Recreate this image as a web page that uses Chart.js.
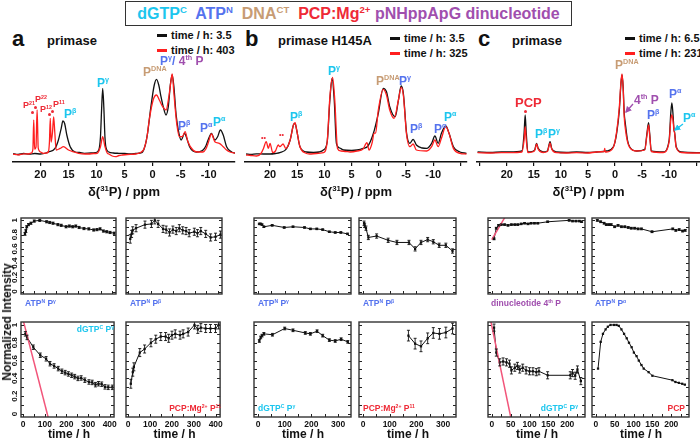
<!DOCTYPE html>
<html>
<head>
<meta charset="utf-8">
<script src="https://cdn.jsdelivr.net/npm/chart.js@4.4.1/dist/chart.umd.min.js"></script>
<style>
  body { margin: 0; background: #fff; }
  #fig { position: relative; width: 700px; height: 439px; overflow: hidden; font-family: 'Liberation Sans', Arial, sans-serif; }
  #fig canvas { position: absolute; }
  .t { position: absolute; font-weight: bold; white-space: nowrap; line-height: 1; }
  .t sup { font-size: .6em; vertical-align: .65em; line-height: 0; }
</style>
</head>
<body>
<div id="fig"></div>
<script>
// ── Spectra (ppm, intensity) ──
const aPpmK = [25,24,23,22,21,20,19,18.6,17.4,16.8,16.3,16.0,15.7,15.3,14.7,13.8,13,12.2,11,10.2,9.6,9.3,9.1,8.9,8.7,8.5,8.3,7.8,7,6,5,4,3,2.2,1.8,1.3,0.9,0.3,-0.3,-0.7,-1.1,-1.5,-1.9,-2.4,-2.8,-3.2,-3.5,-3.8,-4.2,-4.7,-5.1,-5.7,-6.1,-6.6,-7.2,-7.8,-8.5,-9.0,-9.5,-9.9,-10.5,-11.1,-11.6,-12.1,-12.6,-13.2,-14.1,-14.8];
const aIntK = [.085,.075,.085,.078,.085,.08,.09,.10,.136,.22,.337,.41,.387,.27,.153,.10,.095,.087,.09,.093,.12,.25,.52,.737,.55,.25,.14,.10,.09,.087,.085,.08,.085,.09,.10,.17,.287,.553,.77,.827,.77,.653,.553,.47,.553,.787,.87,.753,.47,.287,.22,.287,.237,.153,.11,.10,.105,.12,.16,.22,.287,.22,.253,.32,.27,.153,.10,.087];
const aPpmR = [25,24,23,22.2,21.6,21.35,21.2,21.05,20.8,20.6,20.4,20,19.5,19,18.6,18.4,18.25,18.1,17.85,17.65,17.45,17.2,16.5,15.9,15,14,13.2,12,11.4,10.5,9.9,9.3,8.9,8.5,8.1,7.8,7.2,6.6,6,5.4,4.5,3,2,1.5,1.0,0.6,-0.1,-0.7,-1.2,-1.8,-2.4,-2.9,-3.3,-3.5,-3.8,-4.3,-4.8,-5.3,-5.8,-6.3,-7.2,-8,-9,-9.5,-9.9,-10.5,-11.1,-11.9,-12.6,-13.2,-13.8,-14.8];
const aIntR = [.08,.072,.082,.08,.09,.13,.42,.13,.15,.52,.14,.10,.087,.09,.10,.20,.437,.20,.30,.45,.30,.12,.136,.153,.12,.10,.087,.08,.08,.085,.087,.153,.253,.153,.09,.08,.06,.053,.065,.07,.075,.08,.10,.136,.25,.42,.62,.67,.62,.553,.52,.653,.82,.88,.687,.387,.253,.253,.303,.203,.12,.10,.10,.13,.187,.28,.203,.187,.153,.12,.10,.087];

const bPpmK = [24.4,23.5,22.5,21.2,20,19,18.2,17,16.3,15.7,15.4,15.1,14.5,13.3,12,11,10.2,9.5,9.0,8.6,8.2,7.8,7.2,6.5,5,4,2.9,2,1.0,0.1,-0.8,-1.4,-2.0,-3.0,-3.6,-4.1,-4.5,-5.1,-5.7,-6.3,-6.9,-8,-8.8,-9.7,-10.3,-10.9,-11.5,-12.3,-12.9,-13.7,-14.9,-16.1];
const bIntK = [.08,.075,.082,.08,.08,.085,.093,.13,.22,.37,.387,.32,.153,.10,.095,.10,.12,.20,.62,.837,.62,.187,.14,.12,.115,.12,.136,.16,.287,.487,.737,.703,.553,.453,.62,.76,.687,.287,.187,.227,.17,.14,.136,.187,.26,.187,.287,.36,.287,.153,.10,.087];
const bPpmR = [24.4,23.5,22.5,21.6,21.2,20.7,20.3,20.0,19.5,19,18.5,18.2,17.6,17.1,16.3,15.7,15.4,15.1,14.5,13.5,12.7,11.5,10.2,9.5,9.0,8.5,8.1,7.6,7,6,5.3,4,2.9,2.2,1.8,1.2,0.9,0.6,0.1,-0.8,-1.4,-2.0,-2.8,-3.6,-4.1,-4.5,-5.1,-5.7,-6.3,-6.9,-8.8,-9.7,-10.3,-10.9,-11.5,-12.3,-12.9,-13.7,-14.9,-16.1];
const bIntR = [.07,.065,.06,.09,.136,.203,.136,.187,.093,.11,.17,.153,.18,.136,.22,.37,.393,.32,.153,.09,.08,.085,.093,.20,.653,.847,.62,.136,.11,.105,.10,.11,.13,.193,.12,.20,.287,.29,.52,.727,.67,.52,.437,.62,.747,.67,.27,.153,.18,.12,.11,.153,.22,.153,.237,.353,.287,.136,.087,.08];

const cPpmK = [25.4,23,21,19.4,17.2,16.8,16.6,16.4,16.1,15.3,14.8,14.5,14.2,13.3,12.5,12.0,11.7,10.8,9,7.1,5,3.4,1.6,0.3,-0.3,-0.8,-1.1,-1.3,-1.5,-1.7,-1.9,-2.3,-2.7,-4.0,-5.5,-5.9,-6.2,-6.4,-6.7,-8.9,-10.0,-10.3,-10.5,-10.7,-10.9,-11.0,-11.3,-12.3,-15.7];
const cIntK = [.10,.095,.10,.10,.11,.287,.47,.287,.10,.105,.126,.187,.136,.10,.11,.203,.136,.10,.095,.10,.095,.10,.11,.153,.287,.52,.787,.87,.753,.487,.387,.22,.153,.11,.126,.287,.393,.287,.11,.10,.22,.487,.59,.487,.32,.30,.153,.10,.093];
const cPpmR = [25.4,23,21,19.4,17.2,16.8,16.6,16.4,16.1,15.3,14.8,14.5,14.2,13.3,12.5,12.0,11.7,10.8,9,7.1,5,3.4,2.0,1.9,1.8,1.6,0.3,-0.3,-0.8,-1.1,-1.3,-1.5,-1.7,-1.9,-2.3,-2.7,-4.0,-5.5,-5.9,-6.2,-6.4,-6.7,-8.9,-10.0,-10.3,-10.5,-10.7,-10.9,-11.0,-11.3,-12.3,-15.7];
const cIntR = [.093,.09,.093,.093,.10,.22,.353,.22,.095,.10,.12,.18,.13,.095,.105,.19,.13,.093,.09,.093,.09,.10,.105,.136,.10,.10,.147,.303,.553,.803,.88,.737,.453,.337,.203,.147,.11,.12,.27,.37,.27,.105,.095,.203,.42,.47,.42,.313,.29,.147,.095,.09];

// ── Kinetics panels: time / h, normalized intensity, error ──
const tA1 = [8,12,16,24,35,50,75,106,120,135,157,172,194,209,224,238,253,275,297,319,334,348,363,378,393,412];
const vA1 = [.81,.85,.91,.94,.96,.99,1.0,.98,.97,.96,.94,.93,.91,.92,.91,.92,.90,.885,.88,.865,.87,.88,.85,.84,.83,.82];
const eA1 = [.02,.02,.015,.015,.015,.015,.015,.015,.015,.015,.015,.015,.015,.015,.015,.015,.015,.015,.015,.015,.015,.015,.015,.015,.015,.015];
const tA2 = [9,15,20,35,75,104,119,134,156,170,185,200,215,229,244,259,273,296,310,325,347,369,391,413];
const vA2 = [.74,.81,.86,.89,.94,.95,1.0,.95,.88,.87,.83,.87,.85,.89,.86,.85,.82,.84,.82,.85,.81,.76,.77,.80];
const eA2 = [.06,.05,.05,.05,.05,.05,.05,.05,.05,.05,.05,.05,.05,.05,.05,.05,.05,.05,.05,.05,.05,.05,.05,.05];
const tA3 = [10,18,47,79,106,124,143,162,179,194,209,224,238,253,268,285,304,319,334,348,363,378,393,412];
const vA3 = [.90,.86,.75,.66,.62,.565,.54,.51,.48,.465,.45,.435,.42,.40,.405,.38,.36,.355,.33,.34,.335,.305,.30,.30];
const eA3 = [.025,.025,.025,.025,.025,.025,.025,.025,.025,.025,.025,.025,.025,.025,.025,.025,.025,.025,.025,.025,.025,.025,.025,.025];
const fitA3T = [0, 117];
const fitA3V = [1.054, -0.05];
const tA4 = [12,21,26,53,75,104,126,149,171,185,200,215,237,251,274,303,318,332,354,376,399,413];
const vA4 = [.34,.47,.53,.69,.73,.80,.84,.87,.87,.85,.885,.90,.885,.90,.92,1.0,.95,.97,.96,.96,.96,1.0];
const eA4 = [.05,.045,.045,.045,.045,.045,.045,.045,.045,.045,.045,.045,.045,.045,.045,.045,.045,.045,.045,.045,.045,.045];

const tB1 = [5,10,15,22,53,98,131,174,196,220,242,267,289,310,335];
const vB1 = [.95,.95,.94,.91,.93,.90,.91,.90,.88,.88,.87,.84,.83,.83,.81];
const eB1 = [.01,.01,.01,.01,.01,.01,.01,.01,.01,.01,.01,.01,.01,.01,.01];
const tB2 = [4,6,11,20,51,94,127,172,195,217,242,263,285,310,335];
const vB2 = [.96,.93,.89,.76,.78,.72,.69,.69,.60,.69,.73,.70,.65,.65,.57];
const eB2 = [.03,.03,.03,.03,.03,.03,.03,.03,.03,.03,.03,.03,.03,.03,.03];
const tB3 = [5,10,15,22,54,100,131,177,196,221,242,267,289,311,336];
const vB3 = [.82,.86,.88,.90,.89,.96,.94,.91,.90,.93,.88,.83,.82,.84,.81];
const eB3 = [.015,.015,.015,.015,.015,.015,.015,.015,.015,.015,.015,.015,.015,.015,.015];
const tB4 = [170,195,217,242,263,286,310,335];
const vB4 = [.88,.79,.76,.85,.91,.90,.915,.96];
const eB4 = [.06,.06,.06,.06,.06,.06,.06,.06];

const tC1 = [6,12,18,25,34,43,52,61,69,78,87,96,104,113,122,148,205,214,223,232,238];
const vC1 = [.74,.89,.93,.94,.94,.93,.94,.94,.94,.95,.96,.95,.96,.96,.96,.98,1.0,.99,.99,.99,.98];
const eC1 = [.012,.012,.01,.01,.01,.01,.01,.01,.01,.01,.01,.01,.01,.01,.01,.01,.01,.01,.01,.01,.01];
const fitC1T = [0, 40];
const fitC1V = [0.73, 1.09];
const tC2 = [4,13,22,28,35,41,50,59,68,77,86,94,103,112,121,149,204,212,221,230,237];
const vC2 = [1.0,.98,.96,.94,.94,.94,.91,.93,.91,.91,.90,.89,.89,.88,.88,.84,.88,.86,.87,.85,.86];
const eC2 = [.012,.012,.012,.012,.012,.012,.012,.012,.012,.012,.012,.012,.012,.012,.012,.012,.012,.012,.012,.012,.012];
const tC3 = [6,12,21,30,39,47,52,61,68,74,82,91,100,109,118,125,148,208,214,221,227,236];
const vC3 = [.97,.69,.58,.59,.58,.565,.49,.52,.54,.50,.52,.49,.48,.48,.47,.48,.435,.435,.46,.43,.50,.37];
const eC3 = [.04,.04,.04,.04,.04,.04,.04,.04,.04,.04,.04,.04,.04,.04,.04,.04,.04,.04,.04,.04,.04,.04];
const fitC3T = [-3, 52];
const fitC3V = [1.05, -0.07];
const tC4 = [6,13,19,26,32,39,48,55,61,68,75,82,88,95,101,108,114,121,127,140,150,203,211,220,229,236];
const vC4 = [.51,.81,.90,.95,.98,1.0,1.0,1.0,.99,.95,.90,.85,.80,.75,.69,.65,.60,.55,.51,.47,.43,.38,.36,.35,.34,.33];

const FONT = "'Liberation Sans', Arial, sans-serif";
const CYAN = '#1cc6ee', BLUE = '#5573ee', TAN = '#c79c74', RED = '#ee2a36', PURPLE = '#a04fae';
const fig = document.getElementById('fig');

function txt(x, y, html, color, size, extra) {
    const d = document.createElement('div');
    d.className = 't';
    d.innerHTML = html;
    d.style.left = x + 'px';
    d.style.top = y + 'px';
    d.style.color = color || '#111';
    d.style.fontSize = (size || 12) + 'px';
    if (extra) Object.assign(d.style, extra);
    fig.appendChild(d);
    return d;
}
// right-aligned variant: x is the right edge
function txtR(x, y, html, color, size) {
    return txt(x, y, html, color, size, { transform: 'translateX(-100%)' });
}

function pairs(xs, ys) { return xs.map((x, i) => ({ x, y: ys[i] })); }

// frame, inward ticks, error bars and rotated y labels for the kinetics panels
const framePlugin = {
    id: 'frame',
    afterDatasetsDraw(chart, args, opts) {
        const { ctx, chartArea: a, scales: { x, y } } = chart;
        ctx.save();
        ctx.beginPath();
        ctx.rect(a.left, a.top, a.width, a.height);
        ctx.clip();
        ctx.strokeStyle = '#111';
        ctx.lineWidth = 0.9;
        chart.data.datasets.forEach(ds => {
            if (!ds.errors) return;
            ds.data.forEach((p, j) => {
                const e = ds.errors[j];
                if (!e) return;
                const px = x.getPixelForValue(p.x);
                const y0 = y.getPixelForValue(p.y - e), y1 = y.getPixelForValue(p.y + e);
                ctx.beginPath();
                ctx.moveTo(px, y0); ctx.lineTo(px, y1);
                ctx.moveTo(px - 1.5, y0); ctx.lineTo(px + 1.5, y0);
                ctx.moveTo(px - 1.5, y1); ctx.lineTo(px + 1.5, y1);
                ctx.stroke();
            });
        });
        ctx.restore();

        ctx.save();
        ctx.strokeStyle = '#222';
        ctx.lineWidth = 1;
        ctx.beginPath();
        for (let v = 0; v <= 1.0001; v += 0.1) {
            const py = Math.round(y.getPixelForValue(v)) + 0.5;
            ctx.moveTo(a.left, py); ctx.lineTo(a.left + 3, py);
            ctx.moveTo(a.right, py); ctx.lineTo(a.right - 3, py);
        }
        for (let v = Math.ceil(x.min / opts.step) * opts.step; v <= x.max; v += opts.step) {
            const px = Math.round(x.getPixelForValue(v)) + 0.5;
            ctx.moveTo(px, a.bottom); ctx.lineTo(px, a.bottom - 3);
        }
        ctx.stroke();
        ctx.lineWidth = 1.4;
        ctx.strokeStyle = '#333';
        ctx.strokeRect(a.left, a.top, a.width, a.height);
        if (opts.yLabels) {
            ctx.fillStyle = '#111';
            ctx.font = 'bold 8px ' + FONT;
            ctx.textAlign = 'center';
            ctx.textBaseline = 'middle';
            ['0', '0.2', '0.4', '0.6', '0.8', '1'].forEach((s, i) => {
                const py = y.getPixelForValue(i * 0.2);
                ctx.save();
                ctx.translate(a.left - 6, py);
                ctx.rotate(-Math.PI / 2);
                ctx.fillText(s, 0, 0);
                ctx.restore();
            });
        }
        ctx.restore();
    }
};

function kinetics(o) {
    const padL = 16, padR = 3, padT = 3, axisH = 19;
    const cv = document.createElement('canvas');
    cv.width = o.W + padL + padR;
    cv.height = padT + o.H + (o.bottom ? axisH : 3);
    cv.style.left = (o.L - padL) + 'px';
    cv.style.top = (o.T - padT) + 'px';
    fig.appendChild(cv);

    const datasets = [{
        data: pairs(o.t, o.v), errors: o.e,
        borderColor: '#111', borderWidth: 1,
        pointStyle: 'rect', pointRadius: 1.6, pointBackgroundColor: '#111', pointBorderWidth: 0,
        order: 1
    }];
    if (o.fitT) datasets.push({
        data: pairs(o.fitT, o.fitV), borderColor: '#f2557a', borderWidth: 1.5, pointRadius: 0, order: 0
    });

    new Chart(cv, {
        type: 'line',
        data: { datasets },
        options: {
            responsive: false, animation: false, devicePixelRatio: 1,
            layout: { padding: { left: padL, right: padR, top: padT, bottom: o.bottom ? 0 : 3 } },
            plugins: { legend: { display: false }, tooltip: { enabled: false }, frame: { step: o.step, yLabels: o.yLabels } },
            scales: {
                x: {
                    type: 'linear', min: o.xmin, max: o.xmax, display: !!o.bottom,
                    grid: { display: false, drawTicks: false }, border: { display: false },
                    ticks: {
                        stepSize: o.step, includeBounds: false, autoSkip: false, maxRotation: 0, maxTicksLimit: 30, padding: 3,
                        color: '#111', font: { size: 8.5, weight: 'bold', family: FONT },
                        callback: v => (v % o.labStep === 0 ? String(v) : '')
                    },
                    afterFit: s => { s.height = axisH; }
                },
                y: { min: -0.033, max: 1.033, display: false }
            }
        },
        plugins: [framePlugin]
    });
    if (o.bottom) txt(o.L + o.W / 2, 428, 'time / h', '#111', 12, { transform: 'translateX(-50%)' });
}

function spectrum(o) {
    const pad = 2, axisH = 22, top = 62, h = 100;
    const cv = document.createElement('canvas');
    cv.width = o.W + 2 * pad;
    cv.height = pad + h + axisH;
    cv.style.left = (o.L - pad) + 'px';
    cv.style.top = (top - pad) + 'px';
    fig.appendChild(cv);
    new Chart(cv, {
        type: 'line',
        data: {
            datasets: [
                { data: pairs(o.ppmK, o.intK), borderColor: '#111', borderWidth: 1.3, pointRadius: 0, cubicInterpolationMode: 'monotone', order: 1 },
                { data: pairs(o.ppmR, o.intR), borderColor: '#ff1f1f', borderWidth: 1.3, pointRadius: 0, cubicInterpolationMode: 'monotone', order: 0 }
            ]
        },
        options: {
            responsive: false, animation: false, devicePixelRatio: 1,
            layout: { padding: { left: pad, right: pad, top: pad, bottom: 0 } },
            plugins: { legend: { display: false }, tooltip: { enabled: false } },
            scales: {
                x: {
                    type: 'linear', reverse: true, min: o.min, max: o.max,
                    grid: { drawOnChartArea: false, drawTicks: true, tickLength: 4, color: '#111', lineWidth: 1.2 },
                    border: { display: true, color: '#111', width: 1.6 },
                    ticks: {
                        stepSize: 5, includeBounds: false, autoSkip: false, maxRotation: 0, maxTicksLimit: 30, padding: 2,
                        color: '#111', font: { size: 11, weight: 'bold', family: FONT },
                        callback: v => (v >= -10 && v <= 20 ? String(v) : '')
                    },
                    afterFit: s => { s.height = axisH; }
                },
                y: { min: 0, max: 1, display: false }
            }
        }
    });
    txt(o.L + o.W / 2, 185, 'δ(<sup>31</sup>P) / ppm', '#111', 13, { transform: 'translateX(-50%)' });
}

// ── Title box ──
txt(125, 1,
    `<span style="color:${CYAN}">dGTP<sup>C</sup></span>&nbsp; <span style="color:${BLUE}">ATP<sup>N</sup></span>&nbsp; ` +
    `<span style="color:${TAN}">DNA<sup>CT</sup></span>&nbsp; <span style="color:${RED}">PCP:Mg<sup>2+</sup></span> ` +
    `<span style="color:${PURPLE}">pNHppApG dinucleotide</span>`, '#111', 16,
    { width: '445px', height: '23px', border: '1.5px solid #333', textAlign: 'center', lineHeight: '24px', boxSizing: 'content-box' });

// ── Spectra ──
spectrum({ L: 13, W: 222, min: -14.7, max: 24.9, ppmK: aPpmK, intK: aIntK, ppmR: aPpmR, intR: aIntR });
spectrum({ L: 245, W: 222, min: -16.2, max: 24.6, ppmK: bPpmK, intK: bIntK, ppmR: bPpmR, intR: bIntR });
spectrum({ L: 477, W: 223, min: -15.7, max: 25.5, ppmK: cPpmK, intK: cIntK, ppmR: cPpmR, intR: cIntR });

// panel heads + legends
[[12, 'a', 'primase', 47, '3.5', '403', 157, 35],
 [245, 'b', 'primase H145A', 278, '3.5', '325', 390, 38],
 [478, 'c', 'primase', 512, '6.5', '231', 625, 38]].forEach(([x, l, name, nx, t1, t2, lx, ly]) => {
    txt(x, 28, l, '#111', 22);
    txt(nx, 34, name, '#111', 13);
    [[t1, '#111', ly], [t2, '#ff1f1f', ly + 15]].forEach(([t, c, y]) => {
        const d = document.createElement('div');
        Object.assign(d.style, { position: 'absolute', left: lx + 'px', top: (y - 1) + 'px', width: '10px', height: '2.5px', background: c });
        fig.appendChild(d);
        txt(lx + 14, y - 5.5, 'time / h: ' + t, '#111', 11);
    });
});

// peak labels, panel a
txt(23, 101, 'P<sup>21</sup>', RED, 9);
txt(35, 95, 'P<sup>22</sup>', RED, 9);
txt(40, 105, 'P<sup>12</sup>', RED, 9);
txt(53, 100, 'P<sup>11</sup>', RED, 9);
txt(64, 108, 'P<sup>β</sup>', CYAN, 12);
txt(97, 77, 'P<sup>γ</sup>', CYAN, 12);
txt(143, 66, 'P<sup>DNA</sup>', TAN, 12);
txt(160, 55, `<span style="color:${BLUE}">P<sup>γ</sup>/</span> <span style="color:${PURPLE}">4<sup>th</sup> P</span>`, BLUE, 12);
txt(178, 120, 'P<sup>β</sup>', BLUE, 12);
txt(200, 122, 'P<sup>α</sup>', BLUE, 12);
txt(213, 116, 'P<sup>α</sup>', CYAN, 12);
// panel b
txt(261, 134, '••', RED, 7);
txt(279, 131, '••', RED, 7);
txt(290, 111, 'P<sup>β</sup>', CYAN, 12);
txt(328, 65, 'P<sup>γ</sup>', CYAN, 12);
txt(376, 75, 'P<sup>DNA</sup>', TAN, 12);
txt(399, 75, 'P<sup>γ</sup>', BLUE, 12);
txt(410, 123, 'P<sup>β</sup>', BLUE, 12);
txt(434, 123, 'P<sup>α</sup>', BLUE, 12);
txt(444, 111, 'P<sup>α</sup>', CYAN, 12);
// panel c
txt(515, 96, 'PCP', RED, 13);
txt(535, 128, 'P<sup>β</sup>', CYAN, 12);
txt(548, 128, 'P<sup>γ</sup>', CYAN, 12);
txt(615, 59, 'P<sup>DNA</sup>', TAN, 12);
txt(634, 94, '4<sup>th</sup> P', PURPLE, 12);
txt(647, 109, 'P<sup>β</sup>', BLUE, 12);
txt(669, 88, 'P<sup>α</sup>', BLUE, 12);
txt(683, 112, 'P<sup>α</sup>', CYAN, 12);
// star dots above labelled peaks
[[32, 112], [35.5, 107], [49, 114], [52.5, 111], [525, 111]].forEach(([x, y]) => {
    const d = document.createElement('div');
    Object.assign(d.style, { position: 'absolute', left: (x - 1.5) + 'px', top: (y - 1.5) + 'px', width: '3px', height: '3px', borderRadius: '50%', background: RED });
    fig.appendChild(d);
});
// arrows in c
fig.insertAdjacentHTML('beforeend',
    `<svg width="700" height="439" style="position:absolute;left:0;top:0;pointer-events:none">
      <defs>
        <marker id="ap" markerWidth="5" markerHeight="5" refX="4" refY="2.5" orient="auto"><path d="M0,0 L5,2.5 L0,5 z" fill="${PURPLE}"/></marker>
        <marker id="ac" markerWidth="5" markerHeight="5" refX="4" refY="2.5" orient="auto"><path d="M0,0 L5,2.5 L0,5 z" fill="${CYAN}"/></marker>
      </defs>
      <line x1="633" y1="104" x2="626" y2="112" stroke="${PURPLE}" stroke-width="1.3" marker-end="url(#ap)"/>
      <line x1="683" y1="124" x2="675" y2="130" stroke="${CYAN}" stroke-width="1.3" marker-end="url(#ac)"/>
    </svg>`);

// ── Kinetics grid ──
const R1 = 217, R2 = 321, PH = 96;
kinetics({ L: 21, T: R1, W: 96, H: PH, t: tA1, v: vA1, e: eA1, xmin: -10, xmax: 420, step: 50, labStep: 100, yLabels: true });
kinetics({ L: 126, T: R1, W: 97, H: PH, t: tA2, v: vA2, e: eA2, xmin: -10, xmax: 420, step: 50, labStep: 100 });
kinetics({ L: 21, T: R2, W: 96, H: PH, t: tA3, v: vA3, e: eA3, fitT: fitA3T, fitV: fitA3V, xmin: -10, xmax: 420, step: 50, labStep: 100, yLabels: true, bottom: true });
kinetics({ L: 126, T: R2, W: 97, H: PH, t: tA4, v: vA4, e: eA4, xmin: -10, xmax: 420, step: 50, labStep: 100, bottom: true });

kinetics({ L: 254, T: R1, W: 98, H: PH, t: tB1, v: vB1, e: eB1, xmin: -15, xmax: 348, step: 50, labStep: 100 });
kinetics({ L: 359, T: R1, W: 98, H: PH, t: tB2, v: vB2, e: eB2, xmin: -15, xmax: 348, step: 50, labStep: 100 });
kinetics({ L: 254, T: R2, W: 98, H: PH, t: tB3, v: vB3, e: eB3, xmin: -15, xmax: 348, step: 50, labStep: 100, bottom: true });
kinetics({ L: 359, T: R2, W: 98, H: PH, t: tB4, v: vB4, e: eB4, xmin: -15, xmax: 348, step: 50, labStep: 100, bottom: true });

kinetics({ L: 488, T: R1, W: 98, H: PH, t: tC1, v: vC1, e: eC1, fitT: fitC1T, fitV: fitC1V, xmin: -10, xmax: 247, step: 25, labStep: 50 });
kinetics({ L: 592, T: R1, W: 98, H: PH, t: tC2, v: vC2, e: eC2, xmin: -10, xmax: 247, step: 25, labStep: 50 });
kinetics({ L: 488, T: R2, W: 98, H: PH, t: tC3, v: vC3, e: eC3, fitT: fitC3T, fitV: fitC3V, xmin: -10, xmax: 247, step: 25, labStep: 50, bottom: true });
kinetics({ L: 592, T: R2, W: 98, H: PH, t: tC4, v: vC4, e: null, xmin: -10, xmax: 247, step: 25, labStep: 50, bottom: true });

// panel labels
txt(25, 299, 'ATP<sup>N</sup> P<sup>γ</sup>', BLUE, 8.5);
txt(130, 299, 'ATP<sup>N</sup> P<sup>β</sup>', BLUE, 8.5);
txtR(114, 325, 'dGTP<sup>C</sup> P<sup>γ</sup>', CYAN, 8.5);
txtR(221, 404, 'PCP:Mg<sup>2+</sup> P<sup>11</sup>', RED, 8.5);
txt(258, 299, 'ATP<sup>N</sup> P<sup>γ</sup>', BLUE, 8.5);
txt(363, 299, 'ATP<sup>N</sup> P<sup>β</sup>', BLUE, 8.5);
txt(258, 404, 'dGTP<sup>C</sup> P<sup>γ</sup>', CYAN, 8.5);
txt(363, 404, 'PCP:Mg<sup>2+</sup> P<sup>11</sup>', RED, 8.5);
txt(491, 299, 'dinucleotide 4<sup>th</sup> P', PURPLE, 8.5);
txt(595, 299, 'ATP<sup>N</sup> P<sup>α</sup>', BLUE, 8.5);
txtR(578, 404, 'dGTP<sup>C</sup> P<sup>γ</sup>', CYAN, 8.5);
txtR(685, 404, 'PCP', RED, 8.5);

txt(7, 322, 'Normalized Intensity', '#111', 12, { transform: 'translate(-50%,-50%) rotate(-90deg)' });
</script>
</body>
</html>
